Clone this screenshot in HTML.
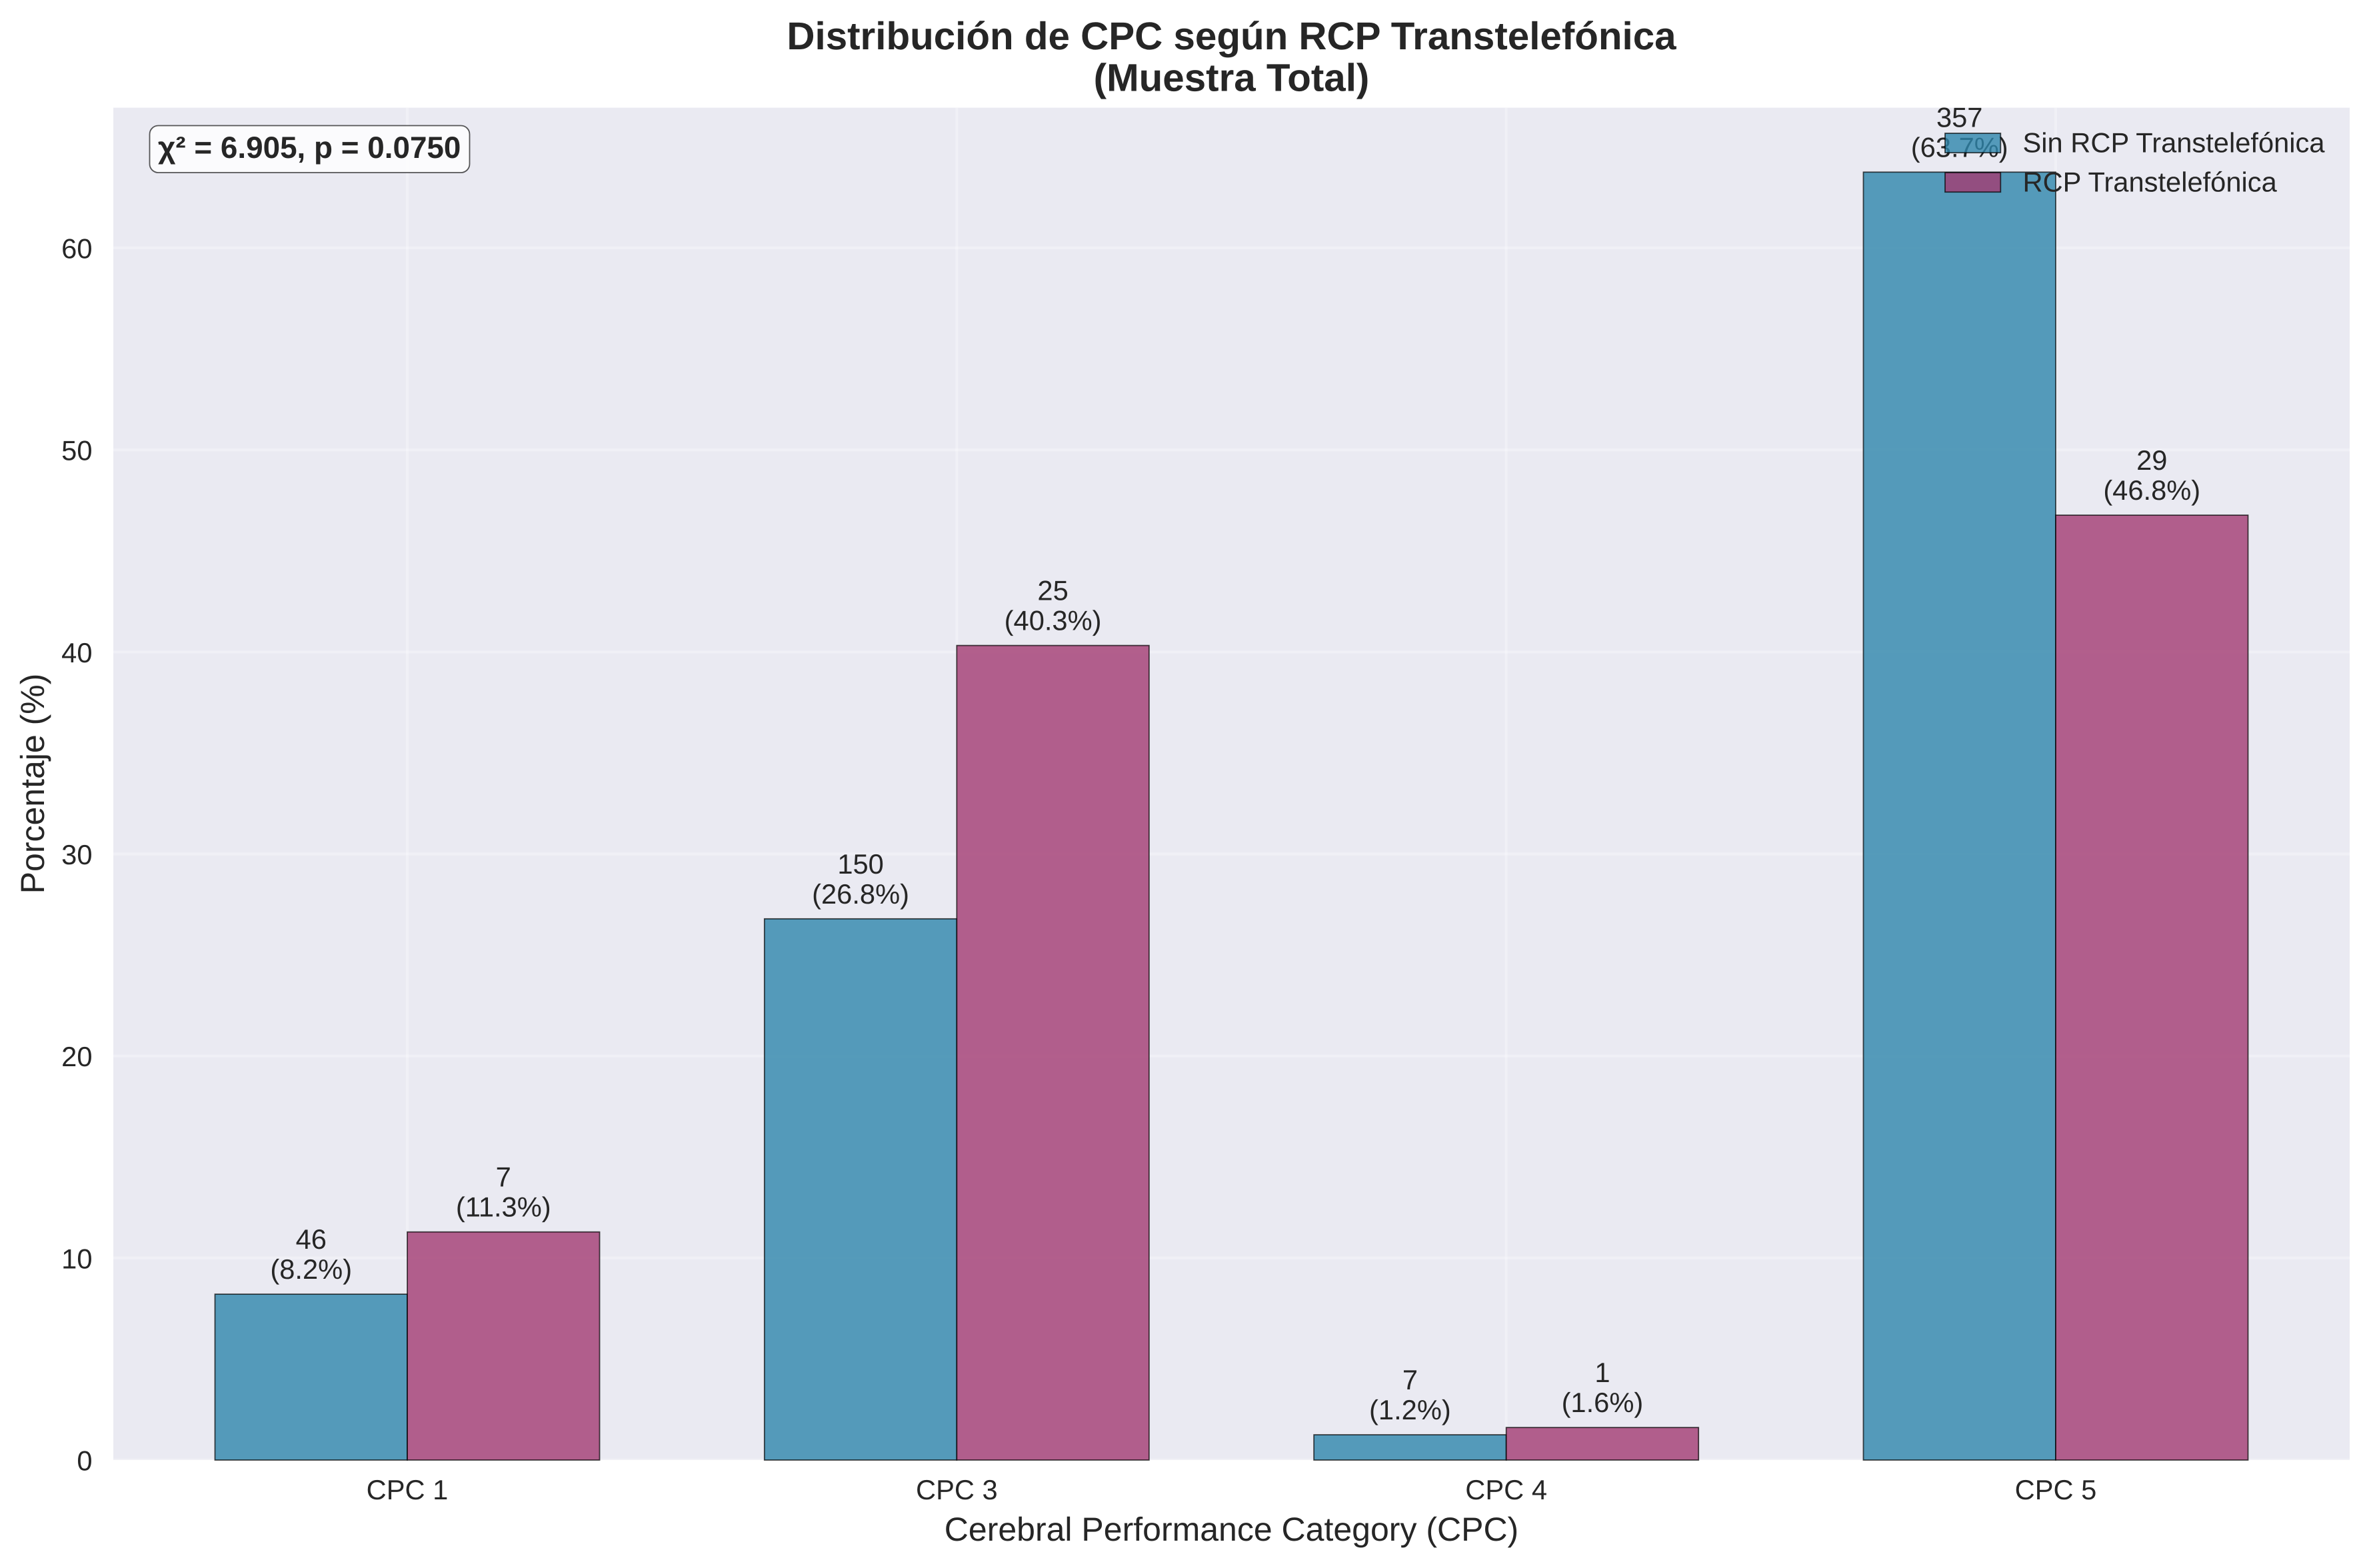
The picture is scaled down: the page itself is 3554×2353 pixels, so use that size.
<!DOCTYPE html>
<html lang="es">
<head>
<meta charset="utf-8">
<title>Distribución de CPC según RCP Transtelefónica</title>
<style>
  html, body { margin: 0; padding: 0; background: #ffffff; }
  svg { display: block; }
  text { font-family: "Liberation Sans", Arial, sans-serif; fill: #262626; text-rendering: geometricPrecision; }
</style>
</head>
<body>
<svg id="chart" xmlns="http://www.w3.org/2000/svg" width="3554" height="2353" viewBox="0 0 3554 2353">
  <defs>
    <clipPath id="plot-clip"><rect x="170" y="161.6" width="3355" height="2029.4"></rect></clipPath>
  </defs>
  <rect x="0" y="0" width="3554" height="2353" fill="#ffffff"></rect>
  <rect x="170" y="161.6" width="3355" height="2029.4" fill="#eaeaf2"></rect>
  <g id="grid" clip-path="url(#plot-clip)"></g>
  <g id="bars"></g>
  <g id="bar-labels"></g>
  <g id="y-ticks"></g>
  <g id="x-ticks"></g>

  <text x="1847.5" y="74" text-anchor="middle" font-size="58.33" font-weight="700">Distribución de CPC según RCP Transtelefónica</text>
  <text x="1847.5" y="136.7" text-anchor="middle" font-size="58.33" font-weight="700">(Muestra Total)</text>
  <text x="1847.5" y="2312" text-anchor="middle" font-size="50">Cerebral Performance Category (CPC)</text>
  <text transform="translate(66 1176) rotate(-90)" text-anchor="middle" font-size="50">Porcentaje (%)</text>

  <g>
    <rect x="224.5" y="188.5" width="480" height="70.5" rx="13" ry="13" fill="#ffffff" fill-opacity="0.8" stroke="#000000" stroke-opacity="0.65" stroke-width="1.8"></rect>
    <text x="237" y="237" font-size="45.83" font-weight="700">χ² = 6.905, p = 0.0750</text>
  </g>

  <g id="legend"></g>
</svg>

<script>
const categories = ["CPC 1", "CPC 3", "CPC 4", "CPC 5"];
const seriesNames = ["Sin RCP Transtelefónica", "RCP Transtelefónica"];
const sinRcpCounts = [46, 150, 7, 357];
const rcpCounts = [7, 25, 1, 29];
const sinRcpPercent = [8.21, 26.79, 1.25, 63.75];
const rcpPercent = [11.29, 40.32, 1.61, 46.77];
const yTickValues = [0, 10, 20, 30, 40, 50, 60];

const svgNS = "http://www.w3.org/2000/svg";
const plot = { left: 170, right: 3525, top: 161.6, bottom: 2191 };
const xDomain = [-0.535, 3.535];
const yDomain = [0, 66.94];
const barWidth = 0.35;
const colors = ["#2E86AB", "#A23B72"];
const textSize = 41.67;

function xScale(v) {
  return plot.left + (v - xDomain[0]) / (xDomain[1] - xDomain[0]) * (plot.right - plot.left);
}
function yScale(v) {
  return plot.bottom - (v - yDomain[0]) / (yDomain[1] - yDomain[0]) * (plot.bottom - plot.top);
}
function make(tag, attrs, text) {
  const node = document.createElementNS(svgNS, tag);
  for (const key in attrs) node.setAttribute(key, attrs[key]);
  if (text !== undefined) node.textContent = text;
  return node;
}
function formatPercent(v) {
  return (Math.ceil(v * 10 - 0.5) / 10).toFixed(1);
}

const gridGroup = document.getElementById("grid");
const barsGroup = document.getElementById("bars");
const labelsGroup = document.getElementById("bar-labels");
const yTicksGroup = document.getElementById("y-ticks");
const xTicksGroup = document.getElementById("x-ticks");
const legendGroup = document.getElementById("legend");

yTickValues.forEach(function (tick) {
  const y = yScale(tick);
  const line = make("line", { x1: plot.left, x2: plot.right, y1: y, y2: y, stroke: "#ffffff", "stroke-opacity": 0.3, "stroke-width": 4.17 });
  
  
  gridGroup.appendChild(line);

  const label = make("text", { x: 138.5, y: y + 15.5, "text-anchor": "end", "font-size": textSize }, String(tick));
  
  
  yTicksGroup.appendChild(label);
});

categories.forEach(function (category, i) {
  const x = xScale(i);
  const line = make("line", { x1: x, x2: x, y1: plot.top, y2: plot.bottom, stroke: "#ffffff", "stroke-opacity": 0.3, "stroke-width": 4.17 });
  
  
  gridGroup.appendChild(line);

  const label = make("text", { x: x, y: 2250, "text-anchor": "middle", "font-size": textSize }, category);
  
  
  xTicksGroup.appendChild(label);
});

function drawSeries(values, counts, color, offset) {
  values.forEach(function (value, i) {
    const x0 = xScale(i + offset);
    const x1 = xScale(i + offset + barWidth);
    const top = yScale(value);
    const bar = make("rect", {
      x: x0, y: top, width: x1 - x0, height: yScale(0) - top,
      fill: color, "fill-opacity": 0.8,
      stroke: "#000000", "stroke-opacity": 0.7, "stroke-width": 1.8
    });
    
    
    barsGroup.appendChild(bar);

    const center = (x0 + x1) / 2;
    const countLabel = make("text", { x: center, y: top - 68, "text-anchor": "middle", "font-size": textSize }, String(counts[i]));
    
    
    labelsGroup.appendChild(countLabel);

    const percentLabel = make("text", { x: center, y: top - 23, "text-anchor": "middle", "font-size": textSize }, "(" + formatPercent(value) + "%)");
    
    
    labelsGroup.appendChild(percentLabel);
  });
}
drawSeries(sinRcpPercent, sinRcpCounts, colors[0], -barWidth);
drawSeries(rcpPercent, rcpCounts, colors[1], 0);

seriesNames.forEach(function (name, i) {
  const rowTop = 200 + i * 59;
  const swatch = make("rect", {
    x: 2918, y: rowTop, width: 83.3, height: 29.2,
    fill: colors[i], "fill-opacity": 0.8,
    stroke: "#000000", "stroke-opacity": 0.7, "stroke-width": 1.8
  });
  
  
  legendGroup.appendChild(swatch);

  const label = make("text", { x: 3034.5, y: rowTop + 28.3, "font-size": textSize }, name);
  
  
  legendGroup.appendChild(label);
});
</script>
</body>
</html>
